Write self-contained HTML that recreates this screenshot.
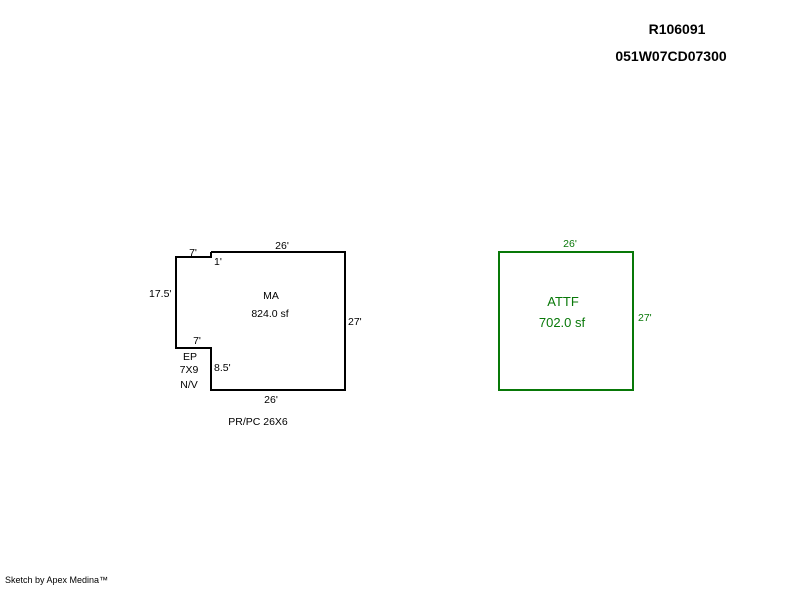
<!DOCTYPE html>
<html><head><style>
body{margin:0;background:#fff;}
svg text{font-family:"Liberation Sans",sans-serif;}
</style></head><body>
<svg width="800" height="587" viewBox="0 0 800 587" xmlns="http://www.w3.org/2000/svg">
<rect width="800" height="587" fill="#fff"/>
<text x="677" y="34" font-size="14" font-weight="bold" text-anchor="middle">R106091</text>
<text x="671" y="61" font-size="14" font-weight="bold" text-anchor="middle">051W07CD07300</text>
<polyline points="211,252 345,252 345,390 211,390 211,348 176,348 176,257 211,257 211,252" fill="none" stroke="#000" stroke-width="2"/>
<g font-size="10.5" fill="#000">
<text x="282" y="249" text-anchor="middle">26'</text>
<text x="193" y="256" text-anchor="middle">7'</text>
<text x="214" y="265">1'</text>
<text x="149" y="297">17.5'</text>
<text x="348" y="325">27'</text>
<text x="197" y="344" text-anchor="middle">7'</text>
<text x="214" y="371">8.5'</text>
<text x="271" y="403" text-anchor="middle">26'</text>
<text x="271" y="299" text-anchor="middle">MA</text>
<text x="270" y="317" text-anchor="middle">824.0 sf</text>
<text x="190" y="360" text-anchor="middle">EP</text>
<text x="189" y="373" text-anchor="middle">7X9</text>
<text x="189" y="388" text-anchor="middle">N/V</text>
<text x="258" y="425" text-anchor="middle">PR/PC 26X6</text>
</g>
<rect x="499" y="252" width="134" height="138" fill="none" stroke="#087808" stroke-width="2"/>
<g fill="#087808">
<text x="570" y="247" font-size="10.5" text-anchor="middle">26'</text>
<text x="638" y="321" font-size="10.5">27'</text>
<text x="563" y="306" font-size="13" text-anchor="middle">ATTF</text>
<text x="562" y="327" font-size="13" text-anchor="middle">702.0 sf</text>
</g>
<text x="5" y="583" font-size="9">Sketch by Apex Medina™</text>
</svg>
</body></html>
